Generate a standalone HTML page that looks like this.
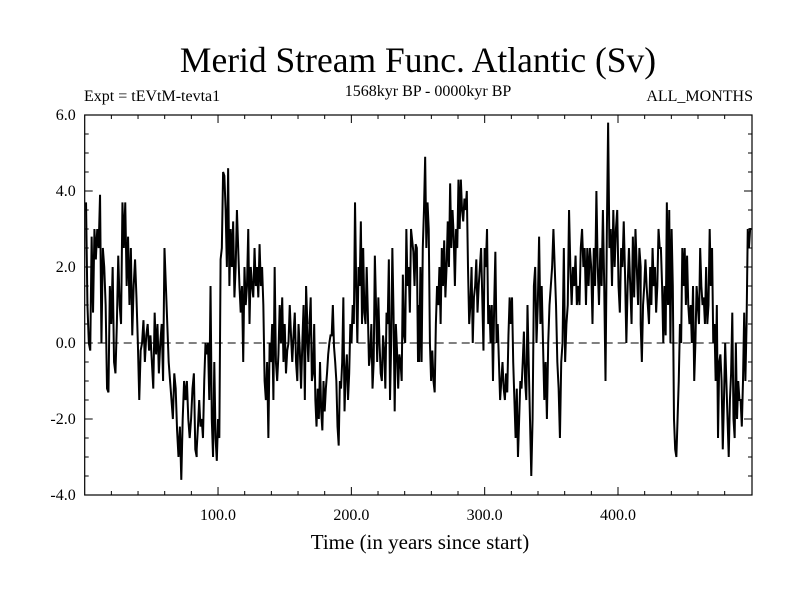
<!DOCTYPE html>
<html><head><meta charset="utf-8">
<style>
html,body{margin:0;padding:0;background:#fff;}
svg{display:block;font-family:"Liberation Serif",serif;}
</style></head>
<body>
<svg id="chart" width="800" height="600" viewBox="0 0 800 600">
<rect x="0" y="0" width="800" height="600" fill="#fff"/>
<text x="418" y="72" font-size="35.5" text-anchor="middle">Merid Stream Func. Atlantic (Sv)</text>
<text x="84" y="101" font-size="16">Expt = tEVtM-tevta1</text>
<text x="428" y="96" font-size="16" text-anchor="middle">1568kyr BP - 0000kyr BP</text>
<text x="753" y="101" font-size="16" text-anchor="end">ALL_MONTHS</text>
<text x="420" y="549" font-size="21" text-anchor="middle">Time (in years since start)</text>
<g id="axes"></g>
<g id="series"></g>
</svg>
<script>
const segYears = [[1,84],[84,167],[166,250],[250,333],[333,417],[417,500]];
const seg1 = [3.7,1.0,0.0,-0.2,2.8,0.8,3.0,2.2,3.0,2.5,3.9,0.0,2.5,2.0,1.0,-1.2,-1.3,1.5,0.5,2.0,-0.5,-0.8,0.5,2.3,1.0,0.5,3.7,2.5,3.7,1.5,2.8,1.0,2.5,0.2,1.5,2.2,1.2,0.0,-1.5,-0.2,0.0,0.6,-0.5,0.2,0.5,-0.2,0.2,-0.5,-1.2,0.8,-0.3,0.5,-0.8,0.0,0.5,-1.0,2.5,1.5,0.5,-0.5,-1.0,-1.5,-2.0,-0.8,-1.2,-2.3,-3.0,-2.2,-3.6,-2.0,-1.0,-1.5,-1.0,-2.0,-2.5,-2.0,-1.2,-0.8,-2.8,-3.0];
const seg2 = [-2.8,-2.2,-1.5,-2.2,-2.0,-2.5,-1.0,0.0,-0.3,0.0,-1.5,1.5,-2.0,-3.0,-0.5,-2.5,-3.1,-2.0,-2.5,2.2,2.5,4.5,4.4,3.5,2.0,4.6,1.5,3.0,2.0,3.2,1.2,2.0,3.5,2.5,1.5,0.8,1.5,-0.5,2.0,1.0,1.5,3.0,0.5,2.0,1.5,1.2,2.5,1.5,2.0,1.2,2.6,1.5,2.0,1.0,-1.0,-1.5,-0.5,-2.5,0.0,-0.5,0.5,-1.5,2.0,-0.5,-1.0,-0.3,1.0,0.0,1.2,-0.5,0.5,-0.8,-0.2,0.0,1.0,0.2,-0.5,0.2,0.8,-0.5,-1.0,0.5,-0.2,-1.2,0.0,1.0,-1.5,1.5,0.5];
const seg3 = [1.5,0.2,-0.5,0.5,1.2,-1.0,-0.8,0.5,-1.5,-2.2,-1.2,-2.0,-0.5,-1.8,-2.3,-1.0,-1.8,-1.2,-0.8,-0.3,0.0,0.2,0.2,1.0,-0.1,-0.5,-1.0,-2.2,-2.7,-1.0,-1.2,-0.5,1.2,-1.8,-0.8,-0.3,-1.5,-0.8,0.5,0.0,1.0,0.5,3.7,1.5,0.0,2.0,1.5,3.2,0.5,2.5,0.8,0.5,2.0,0.8,-0.6,-0.3,0.5,-1.2,-0.5,2.3,1.0,-0.5,1.2,0.0,-0.8,-1.0,0.2,-0.2,-1.2,0.8,0.5,2.2,-1.5,0.0,2.5,0.8,-1.8,0.5,-0.2,-1.2,-0.3,-0.5,-1.0,1.8,0.2,0.0,3.0,1.5,2.0,0.8,3.0,2.7,2.4,1.5,2.6,2.5,-0.5];
const seg4 = [1.0,-0.5,2.0,-0.5,2.5,3.5,4.9,2.5,3.7,3.0,0.0,-1.0,-0.2,-1.0,-1.3,0.5,1.5,1.0,2.0,0.5,2.5,1.5,2.7,1.2,2.0,3.2,2.0,4.2,2.5,3.5,2.8,1.5,3.0,2.5,4.3,3.0,4.3,3.5,3.2,3.8,3.5,4.0,2.0,0.5,1.0,2.0,0.0,1.2,1.5,2.2,0.8,1.5,2.0,2.5,1.2,-0.2,2.5,2.0,3.0,0.5,1.0,0.0,1.0,-1.0,1.0,2.4,0.0,0.5,-0.5,-1.5,-1.0,-0.5,-1.2,-1.5,-0.8,-1.3,0.2,1.2,0.5,1.2,-0.5,-1.5,-2.5,-1.2,-3.0,-2.0,-1.0,-1.2,-0.5,0.3,-1.0,-1.5,1.0,-0.5];
const seg5 = [-0.5,-2.0,-3.5,-2.0,1.5,2.0,0.0,1.0,2.8,0.5,1.5,0.0,-1.5,-0.5,-2.0,0.0,1.0,1.5,2.0,3.0,2.0,1.0,-0.5,-1.2,-2.5,-0.5,0.0,2.5,-0.5,0.5,1.0,3.5,2.0,1.0,2.0,1.5,2.3,1.0,1.5,1.0,2.5,3.0,2.0,2.5,1.0,2.5,1.5,2.5,2.0,0.5,2.5,1.5,4.0,2.0,1.0,2.5,1.5,3.5,1.5,-1.0,2.8,5.8,2.5,3.0,1.5,3.5,2.0,3.0,3.5,1.5,0.8,2.5,2.0,3.2,1.8,0.0,1.5,2.5,1.5,0.5,2.8,1.2,3.0,2.0,1.0,2.5,2.0];
const seg6 = [0.5,-0.5,1.0,1.5,2.2,1.5,1.0,0.5,2.0,1.0,2.5,1.5,2.0,0.8,1.5,3.0,2.5,2.5,1.5,0.0,1.5,0.2,3.7,1.0,3.5,0.0,3.0,1.5,-2.0,-2.8,-3.0,-2.0,-1.0,0.5,0.0,2.5,1.5,2.5,1.0,2.3,1.0,0.5,1.0,0.0,1.5,-1.0,0.0,1.5,1.0,0.5,2.5,1.5,1.0,1.2,0.5,2.0,0.5,1.0,3.0,1.5,2.5,0.0,0.5,-1.0,1.0,-2.5,-0.5,-0.3,-1.0,-2.8,-1.5,0.0,-1.0,-2.0,-3.0,-1.5,-0.8,0.8,-2.0,-2.5,0.0,-2.0,-1.0,-1.5,-1.5,-2.2,-1.0,0.8,-1.0,0.5,3.0,2.5,3.0,3.0];
const segValues = [seg1,seg2,seg3,seg4,seg5,seg6];
const xTickLabels = ["100.0","200.0","300.0","400.0"];
const xTickValues = [100,200,300,400];
const yTickLabels = ["-4.0","-2.0","0.0","2.0","4.0","6.0"];
const yTickValues = [-4,-2,0,2,4,6];

const L=84.7,R=752,T=115,B=495;
const X0=0,X1=500.5,Y0=-4,Y1=6;
function xs(v){return L+(v-X0)/(X1-X0)*(R-L);}
function ys(v){return B-(v-Y0)/(Y1-Y0)*(B-T);}
const NS="http://www.w3.org/2000/svg";
const axes=document.getElementById('axes');
const series=document.getElementById('series');
function mk(tag,attrs,parent){const e=document.createElementNS(NS,tag);for(const k in attrs)e.setAttribute(k,attrs[k]);parent.appendChild(e);return e;}

const frame=mk('rect',{x:L,y:T,width:R-L,height:B-T,fill:'none',stroke:'#000','stroke-width':1.2},axes);



for(let v=20;v<500;v+=20){
  const major=(v%100===0);const len=major?8:4;const x=xs(v);
  const t1=mk('line',{x1:x,y1:B,x2:x,y2:B-len,stroke:'#000','stroke-width':1},axes);
  
  
  const t2=mk('line',{x1:x,y1:T,x2:x,y2:T+len,stroke:'#000','stroke-width':1},axes);
  
  
}
xTickValues.forEach((v,i)=>{
  const t=mk('text',{x:xs(v),y:B+25,'font-size':16,'text-anchor':'middle'},axes);
  t.textContent=xTickLabels[i];
  
  
});
for(let v=-3.5;v<6;v+=0.5){
  const major=(Math.abs(v%2)<1e-9);const len=major?8:4;const y=ys(v);
  const t1=mk('line',{x1:L,y1:y,x2:L+len,y2:y,stroke:'#000','stroke-width':1},axes);
  
  
  const t2=mk('line',{x1:R,y1:y,x2:R-len,y2:y,stroke:'#000','stroke-width':1},axes);
  
  
}
yTickValues.forEach((v,i)=>{
  const t=mk('text',{x:L-9,y:ys(v)+5,'font-size':16,'text-anchor':'end'},axes);
  t.textContent=yTickLabels[i];
  
  
});
const zl=mk('line',{x1:L,y1:ys(0),x2:R,y2:ys(0),stroke:'#000','stroke-width':1,'stroke-dasharray':'8,5'},axes);



let pts=[];
segValues.forEach((vals,s)=>{
  const a=segYears[s][0],b=segYears[s][1];
  vals.forEach((v,i)=>{
    const yr=a+(b-a)*i/(vals.length-1);
    pts.push(xs(yr).toFixed(2)+','+ys(v).toFixed(2));
  });
});
const line=mk('polyline',{points:pts.join(' '),fill:'none',stroke:'#000','stroke-width':2,'stroke-linejoin':'miter'},series);


</script>
</body></html>
